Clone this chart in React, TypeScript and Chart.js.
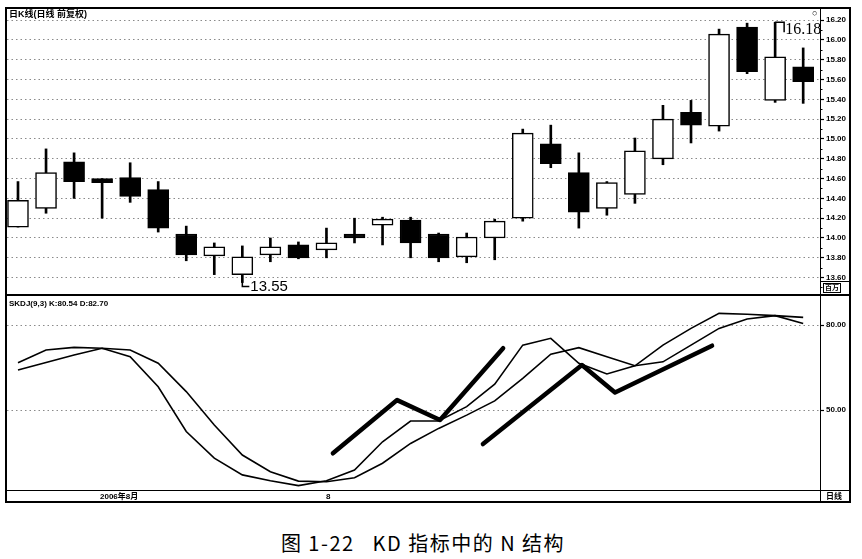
import React, { useEffect, useRef } from 'react';
import { Chart, ChartConfiguration, registerables } from 'chart.js';

Chart.register(...registerables);

// daily candles
const opens = [14.11, 14.30, 14.77, 14.60, 14.61, 14.49, 14.04, 13.82, 13.63, 13.83, 13.93, 13.88, 14.04, 14.13, 14.18, 14.04, 13.81, 14.00, 14.20, 14.95, 14.66, 14.30, 14.44, 14.80, 15.27, 15.13, 16.13, 15.39, 15.73];
const highs = [14.57, 14.90, 14.86, 14.60, 14.76, 14.57, 14.12, 13.95, 13.92, 14.00, 13.96, 14.10, 14.20, 14.21, 14.21, 14.05, 14.05, 14.19, 15.10, 15.14, 14.86, 14.57, 15.01, 15.34, 15.39, 16.11, 16.17, 16.18, 15.92];
const lows = [14.11, 14.25, 14.40, 14.20, 14.36, 14.06, 13.77, 13.63, 13.55, 13.76, 13.79, 13.80, 13.95, 13.93, 13.80, 13.76, 13.75, 13.78, 14.17, 14.71, 14.10, 14.23, 14.35, 14.74, 14.96, 15.08, 15.66, 15.37, 15.36];
const closes = [14.38, 14.66, 14.57, 14.56, 14.42, 14.10, 13.83, 13.91, 13.81, 13.91, 13.80, 13.95, 14.00, 14.19, 13.95, 13.80, 14.01, 14.17, 15.06, 14.75, 14.26, 14.56, 14.88, 15.20, 15.14, 16.06, 15.68, 15.83, 15.58];

// SKDJ(9,3)
const kValues = [66.7, 71.2, 72.1, 71.8, 68.8, 58.2, 42.4, 33.0, 27.1, 25.0, 23.3, 25.0, 28.8, 38.8, 46.1, 46.1, 51.2, 59.1, 72.9, 75.3, 66.5, 62.7, 65.6, 72.9, 78.8, 84.1, 83.8, 83.3, 80.54];
const dValues = [64.1, 66.8, 69.4, 71.8, 71.2, 66.5, 56.5, 44.7, 34.1, 28.2, 24.9, 24.7, 26.1, 31.2, 38.2, 43.5, 48.2, 53.2, 61.2, 69.7, 72.0, 68.8, 65.6, 67.0, 72.9, 78.8, 82.1, 83.3, 82.70];

// the two hand-drawn "N" strokes (x in candle index units)
const nLine1X = [11.23, 13.52, 15.05, 17.30];
const nLine1Y = [34.7, 53.5, 46.5, 71.8];
const nLine2X = [16.58, 20.11, 21.29, 24.75];
const nLine2Y = [38.0, 65.9, 56.2, 72.7];

const priceTicks = [13.6, 13.8, 14.0, 14.2, 14.4, 14.6, 14.8, 15.0, 15.2, 15.4, 15.6, 15.8, 16.0, 16.2];
const priceMinorTicks = [13.5, 13.7, 13.9, 14.1, 14.3, 14.5, 14.7, 14.9, 15.1, 15.3, 15.5, 15.7, 15.9, 16.1];
const kdTicks = [50, 80];

const X_MIN = -0.392;
const X_MAX = 28.60;

const rightAxis = (min: number, max: number, values: number[]) => ({
  position: 'right' as const,
  min,
  max,
  afterBuildTicks: (scale: any) => {
    scale.ticks = values.map(v => ({ value: v }));
  },
  afterFit: (scale: any) => {
    scale.width = 30;
  },
  grid: {
    color: '#8a8a8a',
    lineWidth: 1,
    drawTicks: true,
    tickLength: 4,
    tickColor: '#000',
    tickWidth: 1.2,
    tickBorderDash: [],
  },
  border: { display: false, dash: [1.5, 3] },
  // labels are drawn by the plugin below, so the axis adds no padding
  ticks: { display: false },
});

// axis labels drawn by hand: chart.js otherwise shrinks the plot for them
const axisLabels = {
  id: 'axisLabels',
  afterDraw(chart: any, _args: any, opts: any) {
    const { ctx, scales, chartArea } = chart;
    const ys = scales.y;
    ctx.save();
    ctx.fillStyle = '#000';
    ctx.strokeStyle = '#000';
    ctx.lineWidth = 1;
    ctx.font = 'bold 8px Arial';
    ctx.textBaseline = 'middle';
    (opts.values as number[]).forEach(v => {
      ctx.fillText(v.toFixed(2), chartArea.right + 6, ys.getPixelForValue(v));
    });
    ((opts.minor || []) as number[]).forEach(v => {
      const y = Math.round(ys.getPixelForValue(v)) + 0.5;
      ctx.beginPath();
      ctx.moveTo(chartArea.right, y);
      ctx.lineTo(chartArea.right + 2.5, y);
      ctx.stroke();
    });
    ctx.restore();
  },
};

// low / high marks with their little hooks
const extremeLabels = {
  id: 'extremeLabels',
  afterDraw(chart: any) {
    const { ctx, scales } = chart;
    const xs = scales.x;
    const ys = scales.y;
    ctx.save();
    ctx.strokeStyle = '#000';
    ctx.fillStyle = '#000';
    ctx.lineWidth = 1.5;

    const lx = xs.getPixelForValue(8);
    const ly = ys.getPixelForValue(lows[8]);
    ctx.beginPath();
    ctx.moveTo(lx, ly - 1);
    ctx.lineTo(lx, ly + 4);
    ctx.lineTo(lx + 7, ly + 4);
    ctx.stroke();
    ctx.font = '15px "Liberation Sans", Arial';
    ctx.textBaseline = 'middle';
    ctx.fillText('13.55', lx + 8, ly + 4);

    const hx = xs.getPixelForValue(27);
    const hy = ys.getPixelForValue(highs[27]);
    ctx.beginPath();
    ctx.moveTo(hx, hy);
    ctx.lineTo(hx + 9, hy);
    ctx.lineTo(hx + 9, hy + 10);
    ctx.stroke();
    ctx.font = '16px "Liberation Serif", serif';
    ctx.fillText('16.18', hx + 10, hy + 8);
    ctx.restore();
  },
};

const PriceChart: React.FC = () => {
  const ref = useRef<HTMLCanvasElement>(null);
  useEffect(() => {
    if (!ref.current) return;
    const up = closes.map((c, i) => c >= opens[i]);
    const config: ChartConfiguration = {
      type: 'bar',
      data: {
        datasets: [
          {
            label: 'body',
            data: opens.map((o, i) => ({ x: i, y: [o, closes[i]] })) as any,
            backgroundColor: up.map(u => (u ? '#fff' : '#000')),
            borderColor: '#000',
            borderWidth: 1.5,
            borderSkipped: false,
            barThickness: 21,
            grouped: false,
          } as any,
          {
            label: 'wick',
            data: lows.map((l, i) => ({ x: i, y: [l, highs[i]] })) as any,
            backgroundColor: '#000',
            borderWidth: 0,
            barThickness: 2,
            grouped: false,
          } as any,
        ],
      },
      options: {
        animation: false,
        responsive: false,
        maintainAspectRatio: false,
        layout: { padding: 0 },
        plugins: {
          legend: { display: false },
          tooltip: { enabled: false },
          axisLabels: { values: priceTicks, minor: priceMinorTicks },
        } as any,
        scales: {
          x: { type: 'linear', display: false, min: X_MIN, max: X_MAX, offset: false },
          y: rightAxis(13.4242, 16.3131, priceTicks) as any,
        },
      },
      plugins: [axisLabels, extremeLabels],
    };
    const chart = new Chart(ref.current, config);
    return () => chart.destroy();
  }, []);
  return <canvas ref={ref} width={843} height={286} style={{ position: 'absolute', left: 7, top: 9, width: 843, height: 286 }} />;
};

const KdChart: React.FC = () => {
  const ref = useRef<HTMLCanvasElement>(null);
  useEffect(() => {
    if (!ref.current) return;
    const thin = { borderColor: '#000', borderWidth: 1.6, pointRadius: 0, tension: 0, fill: false };
    const thick = { borderColor: '#000', borderWidth: 4.5, pointRadius: 0, tension: 0, fill: false, borderCapStyle: 'round', borderJoinStyle: 'round' };
    const config: ChartConfiguration = {
      type: 'line',
      data: {
        datasets: [
          { label: 'K', data: kValues.map((v, i) => ({ x: i, y: v })), ...thin } as any,
          { label: 'D', data: dValues.map((v, i) => ({ x: i, y: v })), ...thin } as any,
          { label: 'N1', data: nLine1X.map((x, i) => ({ x, y: nLine1Y[i] })), ...thick } as any,
          { label: 'N2', data: nLine2X.map((x, i) => ({ x, y: nLine2Y[i] })), ...thick } as any,
        ],
      },
      options: {
        animation: false,
        responsive: false,
        maintainAspectRatio: false,
        layout: { padding: 0 },
        plugins: {
          legend: { display: false },
          tooltip: { enabled: false },
          axisLabels: { values: kdTicks },
        } as any,
        scales: {
          x: { type: 'linear', display: false, min: X_MIN, max: X_MAX },
          y: rightAxis(21.41, 90.24, kdTicks) as any,
        },
      },
      plugins: [axisLabels],
    };
    const chart = new Chart(ref.current, config);
    return () => chart.destroy();
  }, []);
  return <canvas ref={ref} width={843} height={195} style={{ position: 'absolute', left: 7, top: 296, width: 843, height: 195 }} />;
};

const line = (left: number, top: number, width: number, height: number): React.CSSProperties => ({
  position: 'absolute', left, top, width, height, background: '#000',
});

const tiny: React.CSSProperties = {
  position: 'absolute',
  fontFamily: 'Arial, "Noto Sans CJK SC"',
  fontSize: 8,
  fontWeight: 'bold',
  lineHeight: '9px',
  color: '#000',
  whiteSpace: 'pre',
};

export default function App() {
  return (
    <div style={{ position: 'absolute', left: 0, top: 0, width: 862, height: 559, background: '#fff', overflow: 'hidden' }}>
      <PriceChart />
      <KdChart />
      {/* frame */}
      <div style={line(5, 7, 846, 2)} />
      <div style={line(5, 7, 2, 496)} />
      <div style={line(849, 7, 2, 496)} />
      <div style={line(5, 501, 846, 2)} />
      <div style={line(5, 294, 846, 2)} />
      <div style={line(5, 490, 846, 1)} />
      <div style={line(820, 7, 1, 496)} />
      <div style={{ ...line(821, 281, 28, 1) }} />
      <div style={{ ...tiny, left: 9, top: 10, fontSize: 9 }}>日K线(日线 前复权)</div>
      <div style={{ ...tiny, left: 812, top: 9, fontWeight: 'normal', fontSize: 9 }}>○</div>
      <div style={{ ...tiny, left: 823, top: 283, border: '1px solid #000', fontSize: 7, lineHeight: '8px', padding: '0 1px' }}>百万</div>
      <div style={{ ...tiny, left: 9, top: 299 }}>SKDJ(9,3) K:80.54 D:82.70</div>
      <div style={{ ...tiny, left: 100, top: 492 }}>2006年8月</div>
      <div style={{ ...tiny, left: 326, top: 492 }}>8</div>
      <div style={{ ...tiny, left: 826, top: 492 }}>日线</div>
      <div
        style={{
          position: 'absolute',
          left: -8,
          top: 528,
          width: 862,
          textAlign: 'center',
          fontFamily: '"Noto Sans CJK SC", sans-serif',
          fontSize: 20,
          letterSpacing: 1.5,
          color: '#000',
          whiteSpace: 'pre',
        }}
      >
        图 1-22   KD 指标中的 N 结构
      </div>
    </div>
  );
}
